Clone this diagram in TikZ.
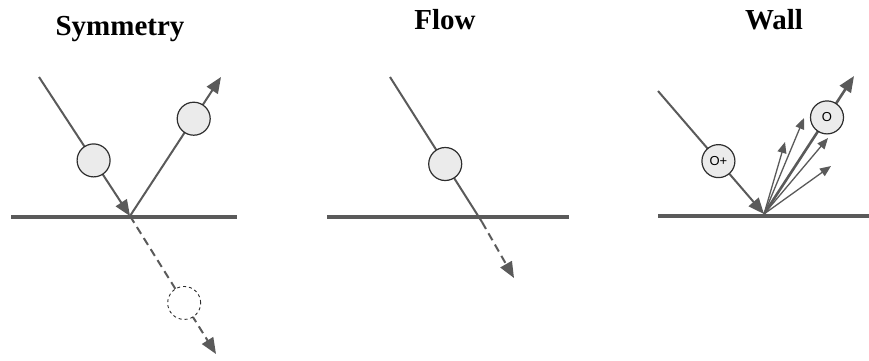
\documentclass[tikz,border=0pt]{standalone}
\usepackage{fontspec}
\setmainfont{Liberation Serif}
\newfontfamily\labelfont{Liberation Sans}
\usetikzlibrary{arrows.meta,calc}

\definecolor{linegray}{HTML}{5A5A5A}
\definecolor{ballgray}{HTML}{EBEBEB}
\definecolor{rimgray}{HTML}{2E2E2E}

\tikzset{
  title/.style={anchor=base,font=\fontsize{29}{32}\selectfont\bfseries},
  wall/.style={draw=linegray,line width=4.5pt},
  ray/.style={draw=linegray,line width=2pt},
  thinray/.style={draw=linegray,line width=1.3pt,-{Triangle[length=11pt,width=9pt]}},
  ghostray/.style={ray,dash pattern=on 8pt off 5pt},
  particle/.style={circle,draw=rimgray,fill=ballgray,line width=1.2pt,
    minimum size=33pt,inner sep=0pt,font=\labelfont\fontsize{13}{14}\selectfont},
  ghost/.style={circle,draw=rimgray,fill=white,dashed,line width=0.9pt,minimum size=33pt,inner sep=0pt}
}

\begin{document}
\begin{tikzpicture}[x=1pt,y=-1pt,>={Triangle[length=16pt,width=13pt]}]
\useasboundingbox (0,0) rectangle (869,360);

% Symmetry
\node[title] (symtitle) at (120,35) {Symmetry};
\coordinate (syml) at (11,217);
\coordinate (symr) at (237,217);
\coordinate (symin) at (39,77);
\coordinate (symhit) at (130,216);
\coordinate (symout) at (221,77);
\coordinate (symimg) at (216,354);
\draw[wall] (syml) -- (symr);
\draw[ray,->] (symin) -- (symhit);
\draw[ray,->] (symhit) -- (symout);
\draw[ghostray,->] (symhit) -- (symimg);
\node[particle] (symp1) at ($(symin)!0.6!(symhit)$) {};
\node[particle] (symp2) at ($(symhit)!0.7!(symout)$) {};
\node[ghost] (symp3) at ($(symhit)!0.63!(symimg)$) {};

% Flow
\node[title] (flowtitle) at (445,29) {Flow};
\coordinate (flowl) at (327,217);
\coordinate (flowr) at (569,217);
\coordinate (flowin) at (390,77);
\coordinate (flowhit) at (482,222);
\coordinate (flowout) at (514,278);
\draw[wall] (flowl) -- (flowr);
\draw[ray] (flowin) -- (flowhit);
\draw[ghostray,->] (flowhit) -- (flowout);
\node[particle] (flowp) at ($(flowin)!0.6!(flowhit)$) {};

% Wall
\node[title] (walltitle) at (774,29) {Wall};
\coordinate (walll) at (658,216);
\coordinate (wallr) at (869,216);
\coordinate (wallin) at (658,91);
\coordinate (wallhit) at (764,214);
\coordinate (wallout) at (854,76);
\draw[wall] (walll) -- (wallr);
\draw[ray,->] (wallin) -- (wallhit);
\draw[thinray] (wallhit) -- (785,142);
\draw[thinray] (wallhit) -- (804,118);
\draw[thinray] (wallhit) -- (828,138);
\draw[thinray] (wallhit) -- (831,166);
\draw[ray,line width=2.6pt,->] (wallhit) -- (wallout);
\node[particle] (wallp1) at ($(wallin)!0.57!(wallhit)$) {O+};
\node[particle] (wallp2) at ($(wallhit)!0.7!(wallout)$) {O};
\end{tikzpicture}
\end{document}
